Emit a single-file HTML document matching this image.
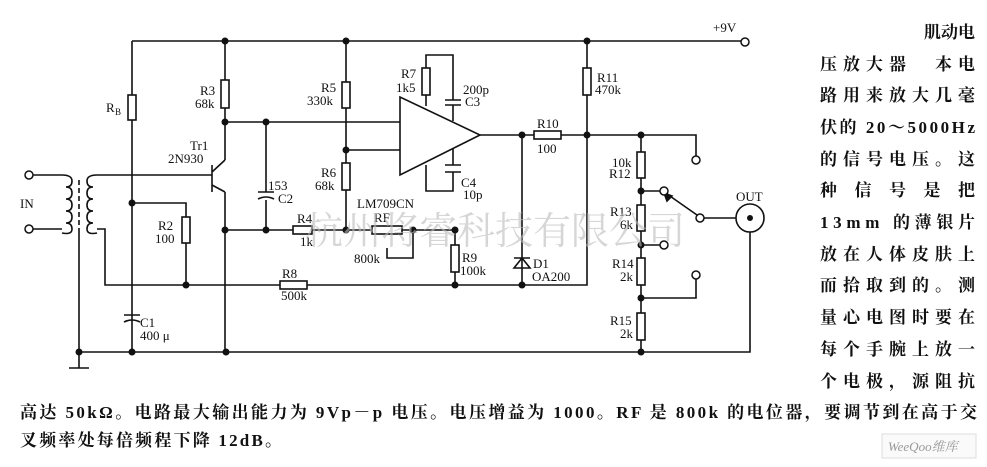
<!DOCTYPE html>
<html><head><meta charset="utf-8"><style>
html,body{margin:0;padding:0;background:#fff}
svg{display:block}
text{font-family:"Liberation Serif","Noto Serif CJK SC",serif;fill:#111}
.cn{font-family:"Liberation Serif","Noto Sans CJK SC",sans-serif;font-weight:bold}
</style></head><body>
<svg width="987" height="467" viewBox="0 0 987 467" xmlns="http://www.w3.org/2000/svg">
<g stroke="#111" stroke-width="1.6" fill="none">
<path d="M132 41H742"/>
<path d="M132 41V95M132 120V352"/><rect x="128" y="95" width="8" height="25"/>
<path d="M225 41V80M225 108V160"/><rect x="221" y="80" width="8" height="28"/>
<path d="M225 122H400"/>
<path d="M212 165V192M212 172L225 160M212 185L225 192M225 192V352"/>
<path d="M97 175H212"/>
<path d="M266 122V192M266 200V230"/><path d="M258 192H274M258 199Q266 195 274 199"/>
<path d="M225 230H293M312 230H372M402 230H455V245M455 272V285"/>
<rect x="293" y="226" width="19" height="8"/>
<rect x="372" y="226" width="30" height="8"/>
<path d="M387 248V258H413V230"/>
<rect x="451" y="245" width="8" height="27"/>
<path d="M346 41V82M346 108V163M346 190V230M346 150H400"/>
<rect x="342" y="82" width="8" height="26"/><rect x="342" y="163" width="8" height="27"/>
<path d="M400 97V175L480 135Z"/>
<path d="M480 135H534M561 135H696V160"/>
<rect x="534" y="131" width="27" height="8"/>
<path d="M426 106V95M426 68V55H453V100M453 105V121"/>
<rect x="422" y="68" width="8" height="27"/>
<path d="M445 100H461M445 105H461"/>
<path d="M453 149V165M453 172V191H426V165"/>
<path d="M445 165H461M445 172H461"/>
<path d="M132 203H186V217M186 243V285"/><rect x="182" y="217" width="8" height="26"/>
<path d="M33 175H62M33 229H62"/>
<path d="M62 175q10 0 10 6q0 6-6 6q6 0 6 6q0 6-6 6q6 0 6 6q0 6-6 6q6 0 6 6q0 6-6 6q6 0 6 6q0 6-10 4"/>
<path d="M97 175q-10 0-10 6q0 6 6 6q-6 0-6 6q0 6 6 6q-6 0-6 6q0 6 6 6q-6 0-6 6q0 6 6 6q-6 0-6 6q0 6 10 4"/>
<path d="M79 180V230" stroke-dasharray="5 3"/>
<path d="M79 230V352M97 229H105V285H280M307 285H587V135"/>
<rect x="280" y="281" width="27" height="8"/>
<path d="M124 315H140M124 322Q132 318 140 322"/>
<path d="M79 352H750V230"/><path d="M69 368H89M79 352V368"/>
<path d="M522 135V284"/><path d="M514 268H530L522 258Z M514 258H530"/>
<path d="M587 41V68M587 95V135"/><rect x="583" y="68" width="8" height="27"/>
<path d="M641 135V152M641 178V205M641 231V258M641 285V313M641 340V352"/>
<rect x="637" y="152" width="8" height="26"/><rect x="637" y="205" width="8" height="26"/>
<rect x="637" y="258" width="8" height="27"/><rect x="637" y="313" width="8" height="27"/>
<path d="M641 191H661M641 245H661M641 298H696V279"/>
<path d="M667 194L697 215M704 218H737"/>
<path d="M672 196l-8-3l3 8z" fill="#111"/>
</g>
<g fill="#111">
<circle cx="225" cy="41" r="3.5"/><circle cx="346" cy="41" r="3.5"/><circle cx="587" cy="41" r="3.5"/>
<circle cx="225" cy="122" r="3.5"/><circle cx="266" cy="122" r="3.5"/><circle cx="346" cy="150" r="3.5"/>
<circle cx="132" cy="203" r="3.5"/><circle cx="225" cy="230" r="3.5"/><circle cx="266" cy="230" r="3.5"/>
<circle cx="346" cy="230" r="3.5"/><circle cx="413" cy="230" r="3.5"/><circle cx="455" cy="230" r="3.5"/>
<circle cx="186" cy="285" r="3.5"/><circle cx="455" cy="285" r="3.5"/><circle cx="522" cy="285" r="3.5"/>
<circle cx="79" cy="352" r="3.5"/><circle cx="132" cy="352" r="3.5"/><circle cx="226" cy="352" r="3.5"/>
<circle cx="522" cy="135" r="3.5"/><circle cx="587" cy="135" r="3.5"/><circle cx="641" cy="135" r="3.5"/>
<circle cx="641" cy="191" r="3.5"/><circle cx="641" cy="245" r="3.5"/><circle cx="641" cy="298" r="3.5"/>
<circle cx="641" cy="352" r="3.5"/>
</g>
<g fill="#fff" stroke="#111" stroke-width="1.5">
<circle cx="29" cy="175" r="4"/><circle cx="29" cy="229" r="4"/><circle cx="745" cy="42" r="4"/>
<circle cx="696" cy="160" r="4"/><circle cx="664" cy="191" r="4"/><circle cx="700" cy="218" r="4"/>
<circle cx="664" cy="245" r="4"/><circle cx="696" cy="275" r="4"/>
</g>
<circle cx="750" cy="218" r="14" fill="#fff" stroke="#111" stroke-width="1.6"/>
<circle cx="750" cy="218" r="3" fill="#111"/>
<g font-size="13">
<text x="106" y="112">R</text><text x="115" y="115" font-size="9">B</text>
<text x="200" y="95">R3</text><text x="195" y="108">68k</text>
<text x="190" y="150">Tr1</text><text x="168" y="163">2N930</text>
<text x="268" y="190">153</text><text x="278" y="203">C2</text>
<text x="158" y="230">R2</text><text x="155" y="243">100</text>
<text x="140" y="327">C1</text><text x="140" y="340">400 μ</text>
<text x="20" y="208">IN</text>
<text x="321" y="92">R5</text><text x="307" y="105">330k</text>
<text x="321" y="177">R6</text><text x="315" y="190">68k</text>
<text x="401" y="78">R7</text><text x="396" y="92">1k5</text>
<text x="463" y="94">200p</text><text x="465" y="106">C3</text>
<text x="461" y="187">C4</text><text x="463" y="199">10p</text>
<text x="357" y="208">LM709CN</text>
<text x="297" y="223">R4</text><text x="300" y="246">1k</text>
<text x="374" y="222">RF</text><text x="354" y="263">800k</text>
<text x="462" y="262">R9</text><text x="460" y="275">100k</text>
<text x="282" y="278">R8</text><text x="281" y="300">500k</text>
<text x="537" y="128">R10</text><text x="537" y="153">100</text>
<text x="597" y="82">R11</text><text x="595" y="94">470k</text>
<text x="612" y="167">10k</text><text x="609" y="178">R12</text>
<text x="610" y="216">R13</text><text x="620" y="229">6k</text>
<text x="612" y="268">R14</text><text x="620" y="281">2k</text>
<text x="610" y="325">R15</text><text x="620" y="338">2k</text>
<text x="533" y="268">D1</text><text x="532" y="281">OA200</text>
<text x="736" y="201">OUT</text><text x="713" y="32">+9V</text>
</g>
<text x="305" y="244" font-size="38" style="fill:#bbb;opacity:.6" font-family="'Noto Serif CJK SC',serif">杭州将睿科技有限公司</text>
<g class="cn" font-size="17">
<text x="975" y="38" text-anchor="end">肌动电</text>
<text x="820" y="70" textLength="155">压放大器　本电</text>
<text x="820" y="101" textLength="155">路用来放大几毫</text>
<text x="820" y="133" textLength="155">伏的 20～5000Hz</text>
<text x="820" y="165" textLength="155">的信号电压。这</text>
<text x="820" y="196" textLength="155">种 信 号 是 把</text>
<text x="820" y="228" textLength="155">13mm 的薄银片</text>
<text x="820" y="260" textLength="155">放在人体皮肤上</text>
<text x="820" y="291" textLength="155">而拾取到的。测</text>
<text x="820" y="323" textLength="155">量心电图时要在</text>
<text x="820" y="355" textLength="155">每个手腕上放一</text>
<text x="820" y="387" textLength="155">个电极，源阻抗</text>
<text x="20" y="418" textLength="957">高达 50kΩ。电路最大输出能力为 9Vp－p 电压。电压增益为 1000。RF 是 800k 的电位器，要调节到在高于交</text>
<text x="20" y="446" textLength="262">叉频率处每倍频程下降 12dB。</text>
</g>
<rect x="882" y="434" width="94" height="24" fill="#fafafa" stroke="#ddd"/>
<text x="888" y="451" font-size="13" font-style="italic" style="fill:#999" font-family="'Liberation Sans','Noto Sans CJK SC',sans-serif">WeeQoo维库</text>
</svg>
</body></html>
